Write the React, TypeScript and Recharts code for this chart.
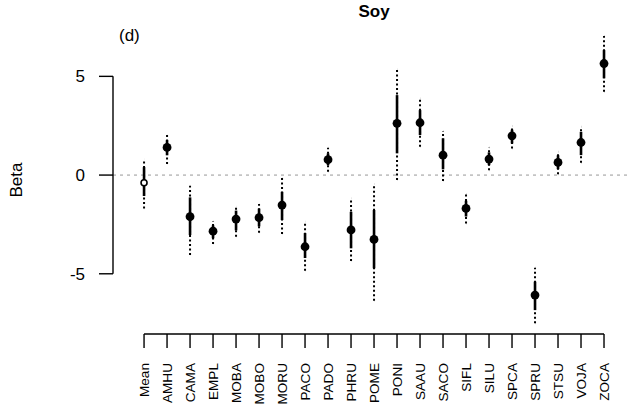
import { ScatterChart, Scatter, XAxis, YAxis, ErrorBar, ReferenceLine } from 'recharts';

// Soy — beta estimates per species, with inner (solid) and outer (dotted) intervals
const species = ['Mean', 'AMHU', 'CAMA', 'EMPL', 'MOBA', 'MOBO', 'MORU', 'PACO', 'PADO', 'PHRU', 'POME',
  'PONI', 'SAAU', 'SACO', 'SIFL', 'SILU', 'SPCA', 'SPRU', 'STSU', 'VOJA', 'ZOCA'];
const beta = [-0.39, 1.40, -2.11, -2.84, -2.23, -2.16, -1.52, -3.63, 0.78, -2.78, -3.26,
  2.62, 2.65, 1.01, -1.69, 0.81, 1.99, -6.08, 0.64, 1.65, 5.65];
const innerLo = [-1.06, 1.0, -3.04, -3.2, -2.8, -2.6, -2.28, -4.2, 0.5, -3.71, -4.72,
  1.10, 2.03, 0.29, -2.1, 0.5, 1.6, -6.84, 0.3, 1.01, 4.90];
const innerHi = [0.4, 1.77, -1.13, -2.55, -1.8, -1.7, -0.85, -2.94, 1.1, -1.86, -1.77,
  4.05, 3.29, 1.86, -1.3, 1.15, 2.3, -5.40, 1.0, 2.19, 6.33];
const outerLo = [-1.69, 0.56, -4.05, -3.49, -3.12, -2.92, -2.99, -4.84, 0.17, -4.35, -6.36,
  -0.25, 1.43, -0.30, -2.45, 0.25, 1.35, -7.51, 0.04, 0.62, 4.22];
const outerHi = [0.8, 2.03, -0.54, -2.33, -1.6, -1.47, -0.15, -2.36, 1.38, -1.18, -0.45,
  5.35, 3.88, 2.23, -0.96, 1.40, 2.48, -4.69, 1.18, 2.45, 7.04];
const yTicks = [-5, 0, 5];

const xDomain: [number, number] = [-1.35, 21.13];
const yDomain: [number, number] = [-8.05, 7.5];
const FONT = '"Liberation Sans", Arial, sans-serif';

const rows = species.map((name, i) => ({
  idx: i,
  name,
  beta: beta[i],
  inner: [beta[i] - innerLo[i], innerHi[i] - beta[i]],
  outer: [beta[i] - outerLo[i], outerHi[i] - beta[i]],
}));

// eslint-disable-next-line @typescript-eslint/no-explicit-any
function SpeciesTick({ x, y, payload }: any) {
  const label = species[payload.value] ?? '';
  return (
    <text x={x} y={y} transform={`rotate(-90, ${x}, ${y})`} textAnchor="end" dominantBaseline="central"
      fontSize={13.6} fontFamily={FONT} fill="#000">
      {label}
    </text>
  );
}

// eslint-disable-next-line @typescript-eslint/no-explicit-any
function Dot({ cx, cy, payload }: any) {
  if (payload.name === 'Mean') {
    return <circle cx={cx} cy={cy} r={3} fill="#fff" stroke="#000" strokeWidth={1.6} />;
  }
  return <circle cx={cx} cy={cy} r={4.4} fill="#000" />;
}

const Empty = () => <g />;

export default function App() {
  return (
    <div style={{ position: 'absolute', left: 0, top: 0, width: 630, height: 411, background: '#fff' }}>
      <ScatterChart width={630} height={411} margin={{ top: 27, right: 0, bottom: 0, left: 0 }}>
        <XAxis type="number" dataKey="idx" domain={xDomain} ticks={species.map((_, i) => i)} interval={0}
          height={77} axisLine={false} tickSize={14} tickMargin={15}
          tickLine={{ stroke: '#000', strokeWidth: 1.4 }} tick={<SpeciesTick />} />
        <YAxis type="number" dataKey="beta" domain={yDomain} ticks={yTicks} width={113}
          axisLine={false} tickSize={14} tickMargin={14}
          tickLine={{ stroke: '#000', strokeWidth: 1.4 }}
          tick={{ fill: '#000', fontSize: 17, fontFamily: FONT }} />
        <ReferenceLine y={0} stroke="#c4c4c4" strokeWidth={1.8} strokeDasharray="3 4" />
        <ReferenceLine ifOverflow="visible" stroke="#000" strokeWidth={1.4}
          segment={[{ x: xDomain[0], y: yTicks[0] }, { x: xDomain[0], y: yTicks[yTicks.length - 1] }]} />
        <ReferenceLine ifOverflow="visible" stroke="#000" strokeWidth={1.4}
          segment={[{ x: 0, y: yDomain[0] }, { x: species.length - 1, y: yDomain[0] }]} />
        <Scatter data={rows} dataKey="beta" shape={<Empty />} isAnimationActive={false}>
          <ErrorBar dataKey="outer" direction="y" width={0} stroke="#000" strokeWidth={2}
            strokeDasharray="2 2.5" isAnimationActive={false} />
        </Scatter>
        <Scatter data={rows} dataKey="beta" shape={<Empty />} isAnimationActive={false}>
          <ErrorBar dataKey="inner" direction="y" width={0} stroke="#000" strokeWidth={2.6}
            isAnimationActive={false} />
        </Scatter>
        <Scatter data={rows} dataKey="beta" shape={<Dot />} isAnimationActive={false} />
      </ScatterChart>
      <div style={{ position: 'absolute', left: 374, top: 2, transform: 'translateX(-50%)', fontFamily: FONT,
        fontSize: 17, fontWeight: 'bold', color: '#000' }}>Soy</div>
      <div style={{ position: 'absolute', left: 119, top: 26, fontFamily: FONT, fontSize: 17, color: '#000' }}>(d)</div>
      <div style={{ position: 'absolute', left: 17, top: 180, transform: 'translate(-50%, -50%) rotate(-90deg)',
        fontFamily: FONT, fontSize: 17, color: '#000', whiteSpace: 'nowrap' }}>Beta</div>
    </div>
  );
}
